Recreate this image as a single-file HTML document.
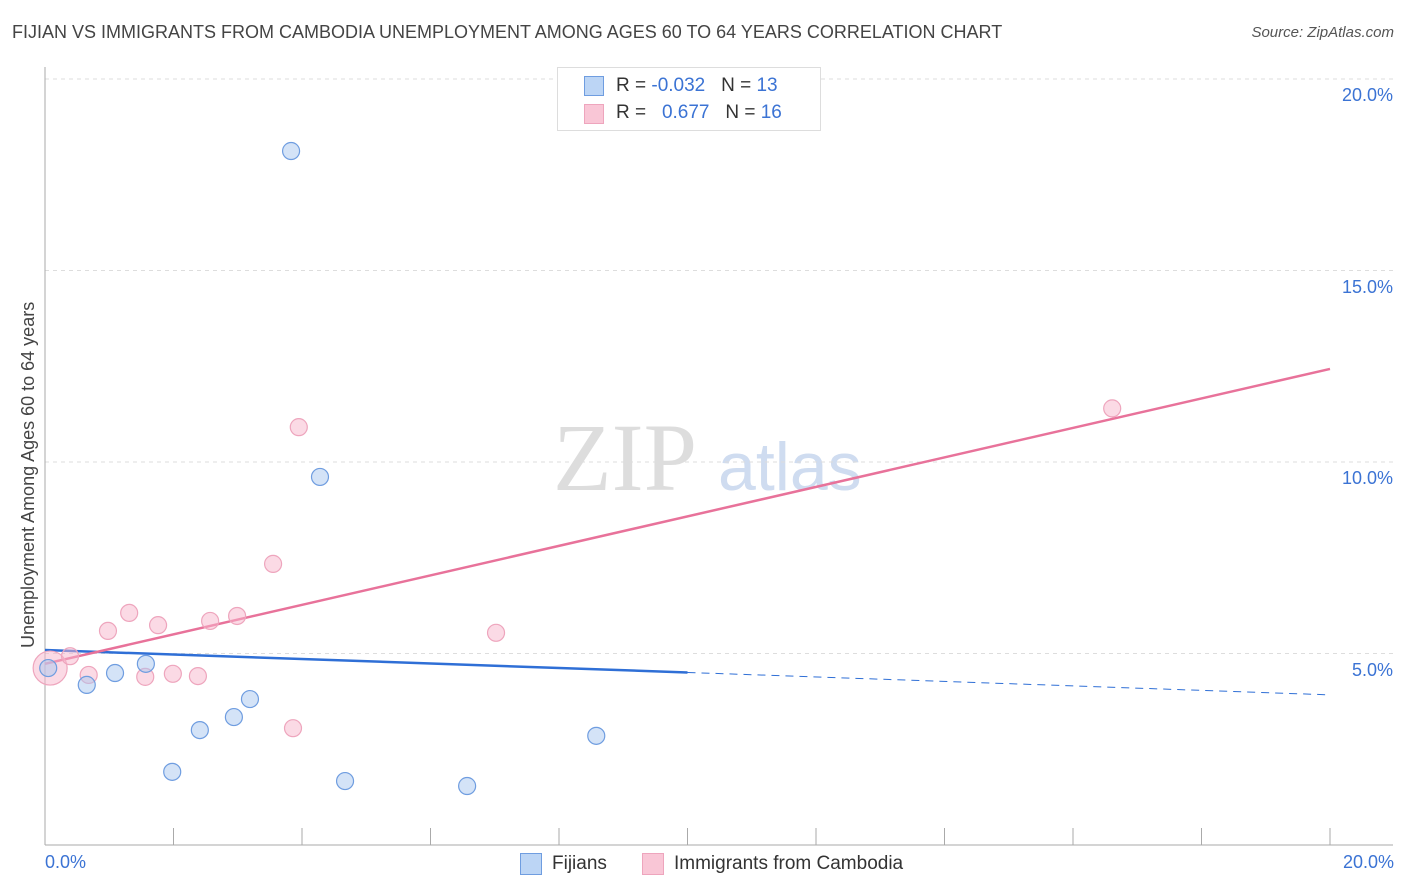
<!DOCTYPE html>
<html><head><meta charset="utf-8"><style>
body{margin:0;background:#fff;font-family:"Liberation Sans",sans-serif;}
#wrap{position:relative;width:1406px;height:892px;overflow:hidden;}
.t{position:absolute;white-space:nowrap;}
</style></head><body>
<div id="wrap">
<div class="t" style="left:12px;top:22px;font-size:18px;color:#444;">FIJIAN VS IMMIGRANTS FROM CAMBODIA UNEMPLOYMENT AMONG AGES 60 TO 64 YEARS CORRELATION CHART</div>
<div class="t" style="right:12px;top:24px;font-size:15px;color:#555;font-style:italic;">Source: ZipAtlas.com</div>
<svg id="svg" width="1406" height="892" style="position:absolute;left:0;top:0"></svg>
</div>
<script>
const fijX=[0.05,0.65,1.09,1.57,1.98,2.41,2.94,3.19,3.83,4.28,4.67,6.57,8.58];
const fijY=[4.62,4.18,4.49,4.73,1.91,3.0,3.34,3.81,18.12,9.61,1.67,1.54,2.85];
const camX=[0.08,0.39,0.68,0.98,1.31,1.56,1.76,1.99,2.38,2.57,2.99,3.55,3.86,3.95,7.02,16.61];
const camY=[4.62,4.93,4.44,5.59,6.06,4.39,5.74,4.47,4.41,5.85,5.98,7.34,3.05,10.91,5.54,11.4];
const fijLine=[5.09,-0.0585]; // intercept, slope
const camLine=[4.73,0.385];
const yTicks=[5,10,15,20];
const yTickLabels=["5.0%","10.0%","15.0%","20.0%"];
const xTicks=[0,2,4,6,8,10,12,14,16,18,20];

const X=v=>45+v/20*1285, Y=v=>845-v/5*191.5;
const ns="http://www.w3.org/2000/svg", svg=document.getElementById('svg'), wrap=document.getElementById('wrap');
function mk(tag,a){const e=document.createElementNS(ns,tag);for(const k in a)e.setAttribute(k,a[k]);svg.appendChild(e);return e;}
function txt(s,css){const d=document.createElement('div');d.className='t';d.textContent=s;d.style.cssText=css;wrap.appendChild(d);return d;}
// watermark
let w=mk('text',{x:553,y:490,'font-size':96,'font-family':'Liberation Serif',fill:'#ddd'});w.textContent='ZIP';


let w2=mk('text',{x:718,y:490,'font-size':68,'font-family':'Liberation Sans',fill:'#cfdcf0'});w2.textContent='atlas';


yTicks.forEach((v,i)=>{
 const g=mk('line',{x1:45,x2:1393,y1:Y(v),y2:Y(v),stroke:'#ddd','stroke-dasharray':'4,4'});
 
 
 const t=txt(yTickLabels[i],'right:13px;top:'+(Y(v)+6)+'px;font-size:18px;color:#3b73d4;');
 
 
});
let ax=mk('line',{x1:45,x2:45,y1:67,y2:845,stroke:'#aaa'});


let bx=mk('line',{x1:45,x2:1393,y1:845,y2:845,stroke:'#aaa'});


xTicks.forEach(v=>{const l=mk('line',{x1:X(v),x2:X(v),y1:828,y2:845,stroke:'#aaa'});
 
 });
// trend lines
let bl=mk('line',{x1:X(0),y1:Y(fijLine[0]),x2:X(10),y2:Y(fijLine[0]+10*fijLine[1]),stroke:'#2f6fd6','stroke-width':2.5});


let bd=mk('line',{x1:X(10),y1:Y(fijLine[0]+10*fijLine[1]),x2:X(20),y2:Y(fijLine[0]+20*fijLine[1]),stroke:'#2f6fd6','stroke-width':1,'stroke-dasharray':'8,6'});


let pl=mk('line',{x1:X(0),y1:Y(camLine[0]),x2:X(20),y2:Y(camLine[0]+20*camLine[1]),stroke:'#e8729a','stroke-width':2.5});


camX.forEach((x,i)=>{const c=mk('circle',{cx:X(x),cy:Y(camY[i]),r:i==0?17:8.5,fill:'rgba(248,182,204,0.5)',stroke:'#eea5bd','stroke-width':1.2});
 
 });
fijX.forEach((x,i)=>{const c=mk('circle',{cx:X(x),cy:Y(fijY[i]),r:8.5,fill:'rgba(170,200,240,0.5)',stroke:'#6f9de0','stroke-width':1.2});
 
 });
</script>
<div class="t" style="left:45px;top:852px;font-size:18px;color:#3b73d4;">0.0%</div>
<div class="t" style="right:12px;top:852px;font-size:18px;color:#3b73d4;">20.0%</div>
<div class="t" style="left:8px;top:456px;font-size:18px;color:#444;transform:translate(0,0) rotate(-90deg);transform-origin:0 0;width:0;"><span style="position:absolute;left:-192px;top:10px;">Unemployment Among Ages 60 to 64 years</span></div>
<div style="position:absolute;left:557px;top:67px;width:262px;height:62px;border:1px solid #ddd;background:#fff;font-size:19px;">
 <div style="position:absolute;left:26px;top:8px;width:18px;height:18px;background:#bcd5f5;border:1px solid #6f9de0;"></div>
 <div class="t" style="left:58px;top:7px;color:#333;">R = <span style="color:#3b73d4">-0.032</span>&nbsp;&nbsp;&nbsp;N = <span style="color:#3b73d4">13</span></div>
 <div style="position:absolute;left:26px;top:36px;width:18px;height:18px;background:#f9c6d6;border:1px solid #eea5bd;"></div>
 <div class="t" style="left:58px;top:34px;color:#333;">R = &nbsp;&nbsp;<span style="color:#3b73d4">0.677</span>&nbsp;&nbsp;&nbsp;N = <span style="color:#3b73d4">16</span></div>
</div>
<div style="position:absolute;left:520px;top:853px;width:20px;height:20px;background:#bcd5f5;border:1px solid #6f9de0;"></div>
<div class="t" style="left:552px;top:853px;font-size:19px;color:#333;">Fijians</div>
<div style="position:absolute;left:642px;top:853px;width:20px;height:20px;background:#f9c6d6;border:1px solid #eea5bd;"></div>
<div class="t" style="left:674px;top:853px;font-size:19px;color:#333;">Immigrants from Cambodia</div>
</body></html>
